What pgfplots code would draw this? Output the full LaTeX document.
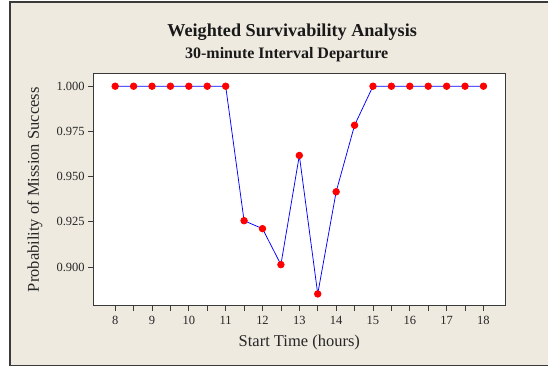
\documentclass[border=0pt]{standalone}
\usepackage{pgfplots}
\pgfplotsset{compat=1.18}
\usepackage{fontspec}
\setmainfont{Liberation Serif}
\definecolor{bgbeige}{HTML}{EEEAE0}
\definecolor{frameline}{HTML}{3A3A3A}
\begin{document}
\begin{tikzpicture}[x=1pt,y=1pt]
\fill[white] (0,0) rectangle (549,368);
\fill[bgbeige] (10,2) rectangle (549,366);
\draw[frameline,line width=1.2pt] (549,366) -- (10,366) -- (10,2) -- (549,2);
\node[font=\fontsize{18.2}{21}\selectfont\bfseries, text=black!90] at (292.5,335.7) {Weighted Survivability Analysis};
\node[font=\fontsize{16}{19}\selectfont\bfseries, text=black!90] at (287,313) {30-minute Interval Departure};
\begin{axis}[
  at={(93.3pt,62pt)}, anchor=south west,
  scale only axis, width=412.7pt, height=232pt,
  xmin=7.403, xmax=18.597, ymin=0.8786, ymax=1.0068,
  axis background/.style={fill=white},
  axis line style={draw=frameline, line width=1.1pt},
  tick align=outside, tick pos=left,
  major tick length=5pt, minor tick length=5pt,
  tick style={draw=frameline, line width=0.8pt},
  xtick={8,9,...,18},
  minor xtick={8.5,9.5,...,17.5},
  ytick={0.900,0.925,0.950,0.975,1.000},
  yticklabel style={/pgf/number format/.cd, fixed, fixed zerofill, precision=3},
  /pgf/number format/assume math mode=true,
  ticklabel style={font=\fontsize{12.5}{14}\selectfont, text=black!85},
  xticklabel style={yshift=-2pt},
  xlabel={Start Time (hours)},
  ylabel={Probability of Mission Success},
  label style={font=\fontsize{16.5}{19}\selectfont, text=black!85},
  xlabel style={at={(axis description cs:0.5,-0.1582)}, anchor=center},
  ylabel style={at={(axis description cs:-0.1413,0.5)}, anchor=center},
  clip=false,
]
\addplot[blue, line width=0.75pt, mark=*, mark size=3.3pt,
  mark options={draw=red, fill=red}]
coordinates {
(8,1.000) (8.5,1.000) (9,1.000) (9.5,1.000) (10,1.000) (10.5,1.000) (11,1.000)
(11.5,0.9256) (12,0.9212) (12.5,0.9013) (13,0.9617) (13.5,0.8851) (14,0.9416)
(14.5,0.9784) (15,1.000) (15.5,1.000) (16,1.000) (16.5,1.000) (17,1.000)
(17.5,1.000) (18,1.000)
};
\end{axis}
\end{tikzpicture}
\end{document}
